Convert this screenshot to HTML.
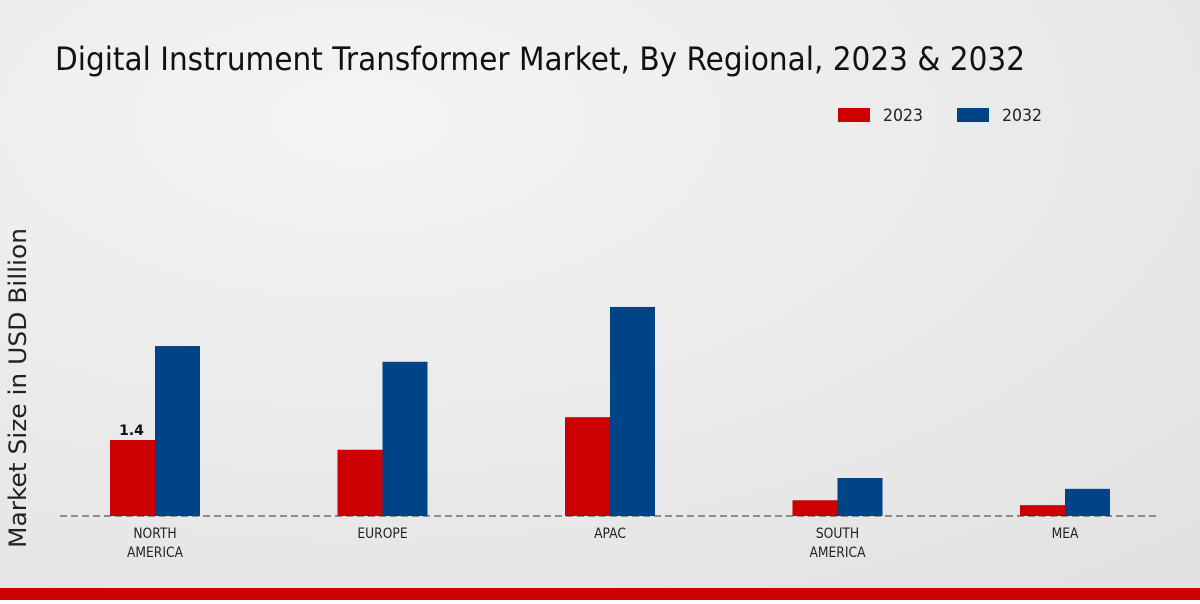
<!DOCTYPE html>
<html><head><meta charset="utf-8"><style>
body{margin:0;width:1200px;height:600px;overflow:hidden;font-family:"DejaVu Sans","Liberation Sans",sans-serif}
</style></head><body>
<svg width="1200" height="600" xmlns="http://www.w3.org/2000/svg">
<defs><radialGradient id="bg" cx="0.3" cy="0.2" r="1"><stop offset="0" stop-color="#f4f4f4"/><stop offset="1" stop-color="#e2e2e2"/></radialGradient></defs>
<rect width="1200" height="600" fill="url(#bg)"/>
<text x="55" y="70" font-size="32" fill="#111" textLength="970" lengthAdjust="spacingAndGlyphs">Digital Instrument Transformer Market, By Regional, 2023 &amp; 2032</text>
<g>
<rect x="838" y="108" width="32" height="14" fill="#cc0000"/>
<text x="883" y="121" font-size="17" fill="#222" textLength="40" lengthAdjust="spacingAndGlyphs">2023</text>
<rect x="957" y="108" width="32" height="14" fill="#004488"/>
<text x="1002" y="121" font-size="17" fill="#222" textLength="40" lengthAdjust="spacingAndGlyphs">2032</text>
</g>
<text transform="translate(26,388) rotate(-90)" text-anchor="middle" font-size="24" fill="#222" textLength="320" lengthAdjust="spacingAndGlyphs">Market Size in USD Billion</text>
<g id="plot"></g>
<line x1="60" y1="516" x2="1160" y2="516" stroke="#333" stroke-dasharray="7,4"/>
<rect x="0" y="588" width="1200" height="12" fill="#cc0000"/>
</svg>
<script>
const categories=[["NORTH","AMERICA"],["EUROPE"],["APAC"],["SOUTH","AMERICA"],["MEA"]];
const values2023=[1.4,1.22,1.82,0.29,0.2];
const values2032=[3.13,2.84,3.85,0.7,0.5];
const labels2023=["1.4",null,null,null,null];
const base=516,scale=54.3,x0=155,step=227.5,bw=45;
const ns="http://www.w3.org/2000/svg",g=document.getElementById("plot");
function y(v){return base-v*scale;}
function cx(i){return x0+i*step;}
function mk(t,a){const e=document.createElementNS(ns,t);for(const k in a)e.setAttribute(k,a[k]);g.appendChild(e);return e;}
categories.forEach((c,i)=>{
 let r=mk("rect",{x:cx(i)-bw,y:y(values2023[i]),width:bw,height:values2023[i]*scale,fill:"#cc0000"});
 
 
 let b=mk("rect",{x:cx(i),y:y(values2032[i]),width:bw,height:values2032[i]*scale,fill:"#004488"});
 
 
 if(labels2023[i]){let t=mk("text",{x:cx(i)-bw/2-1,y:y(values2023[i])-5,"text-anchor":"middle","font-size":"14","font-weight":"bold",fill:"#111"});t.textContent=labels2023[i];
 
 }
 c.forEach((l,j)=>{let t=mk("text",{x:cx(i),y:538+j*19,"text-anchor":"middle","font-size":"14",fill:"#222",transform:"translate("+cx(i)+",0) scale(0.88,1) translate("+(-cx(i))+",0)"});t.textContent=l;
 
 });
});
</script>
</body></html>
